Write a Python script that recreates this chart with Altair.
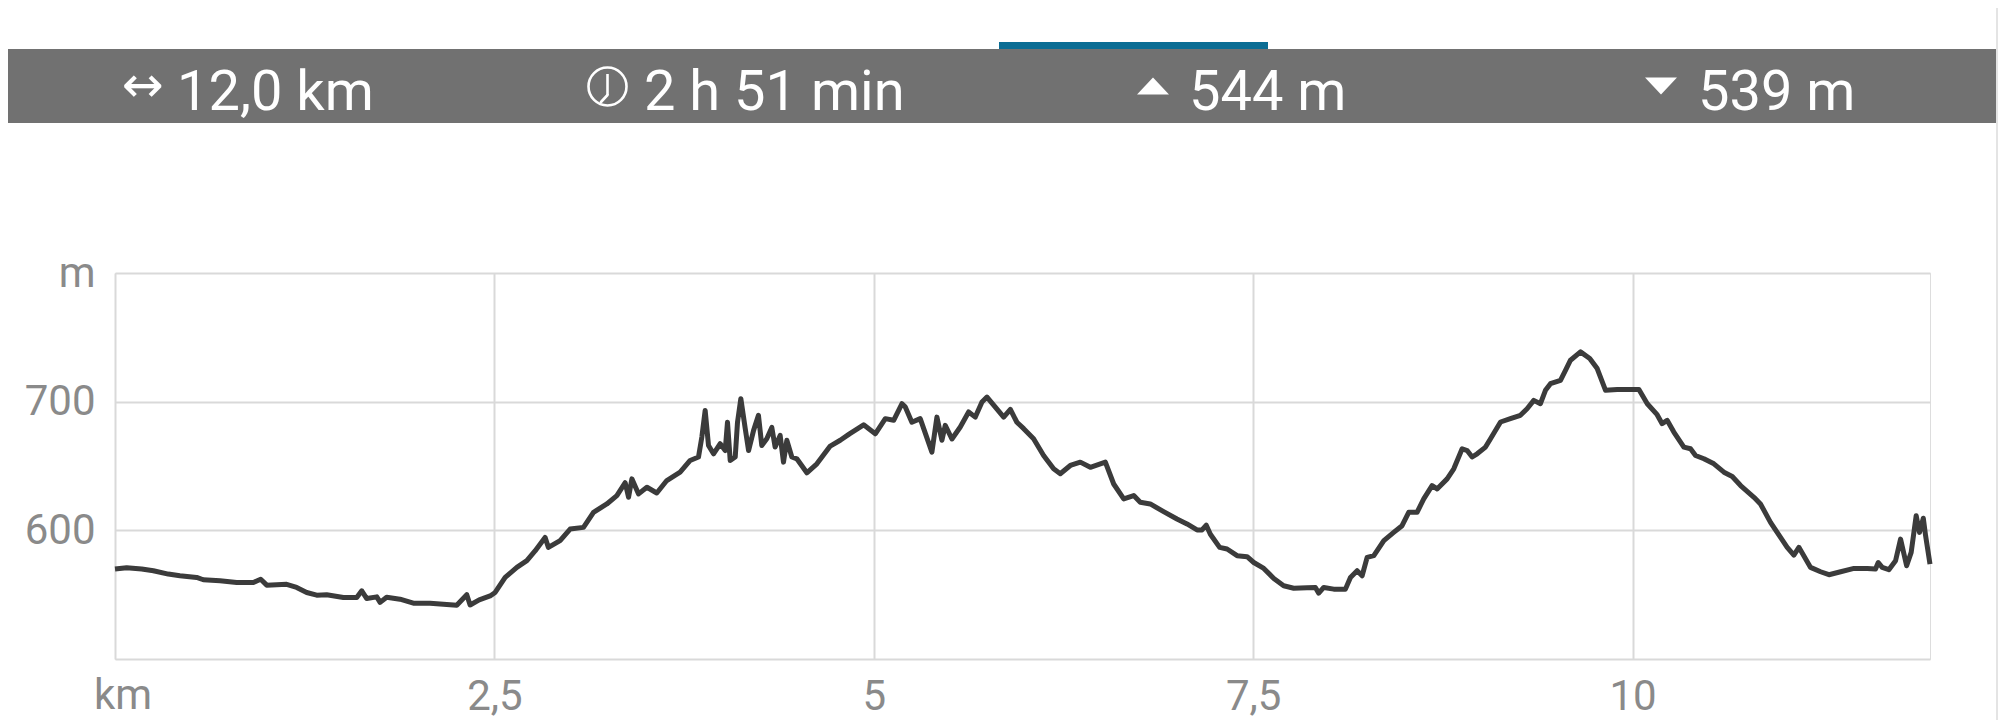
import altair as alt
import pandas as pd

# ---- data ----
km = [0.0, 0.077, 0.176, 0.253, 0.351, 0.428, 0.538, 0.582, 0.692, 0.802,
      0.912, 0.96, 1.0, 1.131, 1.197, 1.263, 1.329, 1.395, 1.505, 1.593,
      1.626, 1.659, 1.725, 1.747, 1.79, 1.878, 1.966, 2.076, 2.164, 2.252,
      2.318, 2.34, 2.40,
      2.472, 2.505, 2.571, 2.648, 2.714, 2.768, 2.834, 2.856, 2.933, 2.999,
      3.087, 3.153, 3.241, 3.307, 3.362, 3.384, 3.406, 3.45, 3.505, 3.57,
      3.636, 3.724, 3.79, 3.845, 3.867, 3.889, 3.911, 3.944, 3.988, 4.021,
      4.036, 4.054, 4.087, 4.102, 4.124, 4.153, 4.175, 4.208, 4.24, 4.262,
      4.295, 4.328, 4.35, 4.383, 4.405, 4.427, 4.46, 4.493, 4.559, 4.625,
      4.713, 4.779, 4.84,
      4.933, 5.01, 5.076, 5.131, 5.186, 5.207, 5.251, 5.306, 5.383, 5.416,
      5.449, 5.471, 5.515, 5.57, 5.625, 5.669, 5.713, 5.746, 5.801, 5.856,
      5.9, 5.943, 5.988, 6.053, 6.119, 6.185, 6.229, 6.295, 6.361, 6.427,
      6.526, 6.581, 6.647, 6.713, 6.756, 6.822, 6.91, 6.998, 7.064, 7.13,
      7.163, 7.191, 7.218, 7.279,
      7.328, 7.394, 7.46, 7.504, 7.57, 7.636, 7.701, 7.767, 7.855, 7.91,
      7.932, 7.965, 8.031, 8.108, 8.141, 8.185, 8.218, 8.251, 8.295, 8.361,
      8.426, 8.481, 8.525, 8.58, 8.624, 8.679, 8.712, 8.778, 8.822, 8.877,
      8.91, 8.943, 8.976, 9.031, 9.064, 9.13, 9.195, 9.261, 9.305, 9.349,
      9.393, 9.426, 9.459, 9.525, 9.558, 9.591, 9.657, 9.718,
      9.767, 9.822, 9.899, 9.987, 10.042, 10.097, 10.162, 10.195, 10.228,
      10.272, 10.338, 10.382, 10.415, 10.47, 10.536, 10.602, 10.657, 10.712,
      10.8, 10.843, 10.909, 10.953, 11.019, 11.063, 11.096, 11.173, 11.239,
      11.294, 11.371, 11.459, 11.547, 11.601, 11.619, 11.645, 11.689, 11.733,
      11.766, 11.806, 11.836, 11.869, 11.891, 11.916, 11.931, 11.96]

elev = [570, 571, 570, 568.6, 566, 564.7, 563.4, 561.6, 560.8, 559.5,
        559.5, 562, 557.4, 558, 555.6, 551.7, 549.6, 550, 547.8, 547.8,
        553, 547, 548.3, 544, 548, 546.5, 543.4, 543.4, 542.6, 541.8,
        550, 542, 546,
        549, 551.7, 563.4, 571.2, 576.4, 584, 594.5, 586.7, 592, 601,
        602.3, 614, 620.5, 627, 637, 625.7, 640, 628.3, 633.5, 629,
        638.7, 645.2, 654.3, 657, 672.5, 693.2, 666, 659.5, 667.3, 662,
        684, 654.3, 657, 684, 702.3, 679, 662, 677.7, 689.4, 666,
        671.2, 680, 664.7, 673.8, 653, 670, 657, 655.6, 644.7, 651.7,
        665.5, 670, 675,
        682, 675, 686.8, 685.5, 698.4, 696, 684, 686.8, 660.8, 688,
        670, 681.6, 671, 680.3, 692, 688, 699.7, 703.6, 695.8, 688,
        694, 684, 679, 671.2, 658.2, 647.8, 644, 650.4, 653, 649,
        653, 636, 624.4, 627, 621.8, 620.5, 614.5, 608.8, 605, 600.3,
        600.3, 604, 597, 586.8,
        585.5, 580.3, 579.5, 575, 570.4, 562.6, 556.9, 555, 555.3, 555.6,
        551.2, 555.6, 554.3, 554.3, 563.4, 568.6, 564.7, 579, 580.3, 592,
        598.4, 603.6, 614, 614, 624.4, 634.8, 632.2, 640, 647.8, 663.4,
        662, 657, 659.5, 664.7, 671.2, 684.2, 686.8, 689.4, 694.5, 701,
        698.4, 708.8, 714, 716.6, 724.4, 732.2, 738.7, 733.5,
        725.7, 708.8, 709.4, 709.4, 709.4, 698.4, 689.9, 682.9, 685.5,
        676.4, 664.7, 663.4, 658.2, 655.6, 651.7, 645.2, 641.8, 634.8,
        625.7, 620.5, 606.2, 598.4, 586.8, 580.8, 586.8, 571.2, 567.8,
        565.5, 567.8, 570.4, 570.4, 569.9, 575, 571.2, 569.4, 576.4,
        593.2, 572.5, 582.9, 611.4, 598.4, 609.4, 595.8, 573.8]

header_labels = ["12,0 km", "2 h 51 min", "544 m", "539 m"]
x_ticks = [0, 2.5, 5, 7.5, 10]
y_ticks = [500, 600, 700, 800]
x_unit = "km"
y_unit = "m"

# ---- layout ----
W, H = 1815, 386
FONT = "Roboto"
LABEL_GREY = "#8a8a8a"
GRID = "#d9d9d9"

df = pd.DataFrame({"km": km, "elev": elev})
one = alt.Data(values=[{"k": 1}])

line = alt.Chart(df).mark_line(
    color="#3b3b3b", strokeWidth=5, strokeJoin="round"
).encode(
    x=alt.X("km:Q",
            scale=alt.Scale(domain=[0, 11.96], nice=False, zero=False),
            axis=alt.Axis(values=x_ticks, title=None, domain=False, ticks=False, tickSize=0,
                          grid=True, gridColor=GRID, gridWidth=2,
                          labelExpr="datum.value == 0 ? '' : replace(format(datum.value, '~g'), '.', ',')",
                          labelFont=FONT, labelFontSize=42, labelColor=LABEL_GREY,
                          labelPadding=17, labelFlush=False, labelOverlap=False)),
    y=alt.Y("elev:Q",
            scale=alt.Scale(domain=[500, 800], nice=False, zero=False),
            axis=alt.Axis(values=y_ticks, title=None, domain=False, ticks=False, tickSize=0,
                          grid=True, gridColor=GRID, gridWidth=2,
                          labelExpr="datum.value == 800 ? '" + y_unit + "' : (datum.value == 500 ? '' : datum.label)",
                          labelFont=FONT, labelFontSize=42, labelColor=LABEL_GREY,
                          labelPadding=20, labelFlush=False, labelOverlap=False)),
)

km_label = alt.Chart(one).mark_text(
    font=FONT, fontSize=42, color=LABEL_GREY, align="center", baseline="alphabetic"
).encode(x=alt.value(8), y=alt.value(436), text=alt.value(x_unit))

# header band
band = alt.Chart(one).mark_rect(color="#717171").encode(
    x=alt.value(-107), x2=alt.value(1881), y=alt.value(-224), y2=alt.value(-150))
tab = alt.Chart(one).mark_rect(color="#0b6d94").encode(
    x=alt.value(884), x2=alt.value(1153), y=alt.value(-231), y2=alt.value(-224))
edge = alt.Chart(one).mark_rule(color="#e4e4e4", strokeWidth=2).encode(
    x=alt.value(1882), y=alt.value(-265), y2=alt.value(H + 61))

layers = [band, tab, edge]

text_x = [62, 529, 1074, 1583]
for lab, tx in zip(header_labels, text_x):
    layers.append(alt.Chart(one).mark_text(
        font=FONT, fontSize=56, color="white", align="left", baseline="alphabetic"
    ).encode(x=alt.value(tx), y=alt.value(-163), text=alt.value(lab)))

# icons
arrow = alt.Chart(one).mark_text(
    font="DejaVu Sans", fontSize=50, color="white", align="center", baseline="middle"
).encode(x=alt.value(28), y=alt.value(-186), text=alt.value("\u2194"))
clock = alt.Chart(one).mark_point(
    shape="circle", filled=False, stroke="white", strokeWidth=2.6, size=1444, opacity=1
).encode(x=alt.value(492.5), y=alt.value(-186.5))
hand1 = alt.Chart(one).mark_rule(color="white", strokeWidth=2.6).encode(
    x=alt.value(492.5), x2=alt.value(492.5), y=alt.value(-199), y2=alt.value(-178))
hand2 = alt.Chart(one).mark_rule(color="white", strokeWidth=2.6, strokeCap="round").encode(
    x=alt.value(492.5), x2=alt.value(486), y=alt.value(-178), y2=alt.value(-171))
tri_up = alt.Chart(one).mark_point(
    shape="M-1,0.53L1,0.53L0,-0.53Z", filled=True, color="white", opacity=1, size=1024
).encode(x=alt.value(1038), y=alt.value(-187))
tri_down = alt.Chart(one).mark_point(
    shape="M-1,-0.53L1,-0.53L0,0.53Z", filled=True, color="white", opacity=1, size=1024
).encode(x=alt.value(1546), y=alt.value(-187))

layers += [arrow, clock, hand1, hand2, tri_up, tri_down, line, km_label]

chart = alt.layer(*layers).properties(
    width=W, height=H,
    padding={"left": 107, "top": 265, "right": 68, "bottom": 61},
    autosize=alt.AutoSizeParams(type="none"),
).configure_view(stroke=None).configure(background="white")

chart.save("out.html", embed_options={"renderer": "svg", "actions": False})
